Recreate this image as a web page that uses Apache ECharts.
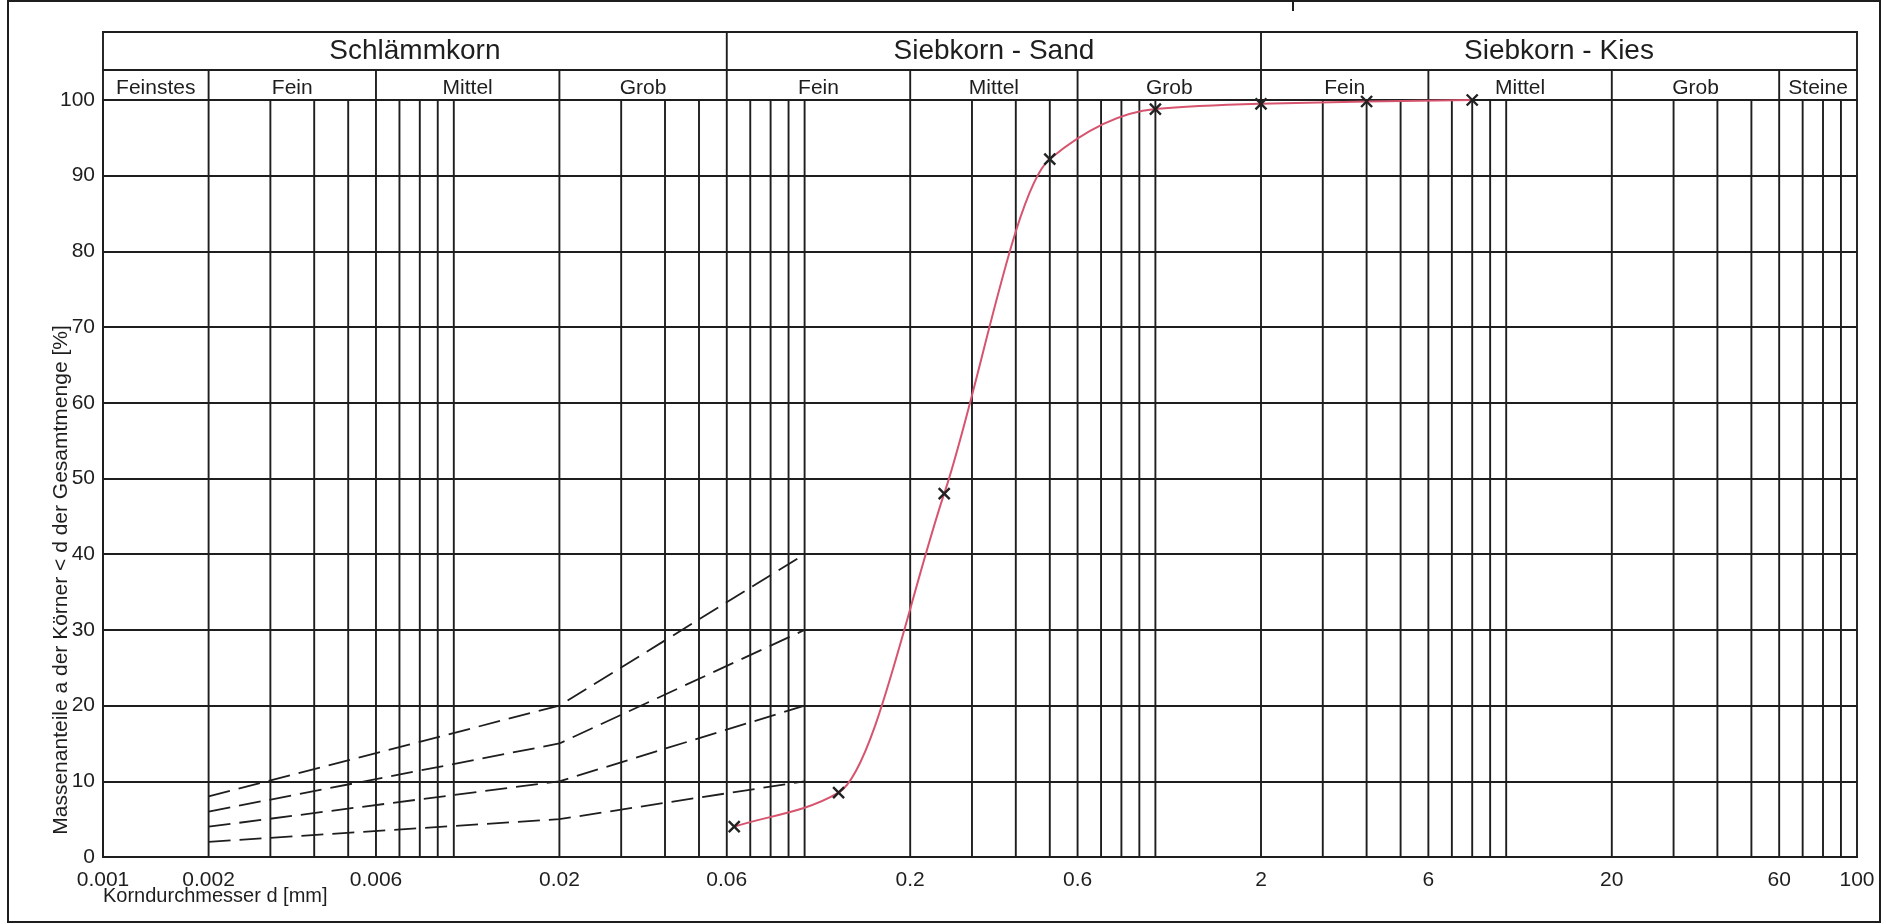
<!DOCTYPE html>
<html><head><meta charset="utf-8">
<script src="https://cdn.jsdelivr.net/npm/echarts@6/dist/echarts.min.js"></script>
<style>html,body{margin:0;padding:0;background:#fff}#c{width:1886px;height:924px}</style>
</head><body><div id="c"></div>
<script>
// ---- data ----
const sieveSizes = [0.063, 0.125, 0.25, 0.5, 1, 2, 4, 8];
const passing    = [4.0, 8.5, 48, 92.2, 98.8, 99.5, 99.8, 100];

const bandSizes = [0.002, 0.02, 0.1];
const band1 = [8, 20, 40];
const band2 = [6, 15, 30];
const band3 = [4, 10, 20];
const band4 = [2, 5, 10];

const xTickLabels = ['0.001', '0.002', '0.006', '0.02', '0.06', '0.2', '0.6', '2', '6', '20', '60', '100'];

const mainGroups = ['Schlämmkorn', 'Siebkorn - Sand', 'Siebkorn - Kies'];
const mainBounds = [0.001, 0.06, 2, 100];
const subGroups  = ['Feinstes', 'Fein', 'Mittel', 'Grob', 'Fein', 'Mittel', 'Grob', 'Fein', 'Mittel', 'Grob', 'Steine'];
const subBounds  = [0.001, 0.002, 0.006, 0.02, 0.06, 0.2, 0.6, 2, 6, 20, 60, 100];

const gridDecades = [0.001, 0.01, 0.1, 1, 10];
const gridSteps   = [1, 2, 3, 4, 5, 6, 7, 8, 9];

// ---- derived ----
const FONT = '"Liberation Sans", Arial, sans-serif';
const INK = '#1e1e1e';
const LW = 1.9;
const CURVE = '#d6546e';
const gridX = [];
gridDecades.forEach(d => gridSteps.forEach(s => {
  const v = +(d * s).toPrecision(6);
  if (v > 0.001 && v < 100) gridX.push(v);
}));
const inner = arr => arr.slice(1, -1);
const mids = b => b.slice(0, -1).map((v, i) => Math.sqrt(v * b[i + 1]));
const curveData = sieveSizes.map((d, i) => [d, passing[i]]);

function vLines(ax, values, y0, y1) {
  return {
    type: 'custom', xAxisIndex: ax, yAxisIndex: ax, silent: true, z: 1, clip: false,
    data: values.map(v => [v, y0]),
    renderItem: (p, api) => {
      const a = api.coord([api.value(0), y0]);
      const b = api.coord([api.value(0), y1]);
      return { type: 'line', shape: { x1: a[0], y1: a[1], x2: b[0], y2: b[1] },
               style: { stroke: INK, lineWidth: LW } };
    }
  };
}
function texts(ax, xs, labels, yv, size, dy) {
  return {
    type: 'custom', xAxisIndex: ax, yAxisIndex: ax, silent: true, z: 5, clip: false,
    data: xs.map((v, i) => [v, yv, i]),
    renderItem: (p, api) => {
      const c = api.coord([api.value(0), yv]);
      return { type: 'text', x: c[0], y: c[1] + (dy || 0),
               style: { text: labels[api.value(2)], font: size + 'px ' + FONT, fill: INK,
                        align: 'center', verticalAlign: 'middle' } };
    }
  };
}
function band(data) {
  return {
    type: 'line', xAxisIndex: 0, yAxisIndex: 0, silent: true, z: 3,
    data: bandSizes.map((d, i) => [d, data[i]]),
    symbol: 'none',
    lineStyle: { color: INK, width: 1.8, type: [22, 9] }
  };
}
// monotone (Fritsch-Carlson) cubic through the points after mapping by the axes
function curveSeries() {
  return {
    type: 'custom', xAxisIndex: 0, yAxisIndex: 0, silent: true, z: 4, clip: false,
    data: curveData,
    renderItem: (params, api) => {
      if (params.dataIndex !== 0) return null;
      const P = curveData.map(v => api.coord(v));
      const n = P.length, h = [], d = [], m = [];
      for (let k = 0; k < n - 1; k++) {
        h[k] = P[k + 1][0] - P[k][0];
        d[k] = (P[k + 1][1] - P[k][1]) / h[k];
      }
      m[0] = d[0]; m[n - 1] = d[n - 2];
      for (let k = 1; k < n - 1; k++) {
        if (d[k - 1] * d[k] <= 0) { m[k] = 0; continue; }
        const w1 = 2 * h[k] + h[k - 1], w2 = h[k] + 2 * h[k - 1];
        m[k] = (w1 + w2) / (w1 / d[k - 1] + w2 / d[k]);
      }
      const children = [];
      for (let k = 0; k < n - 1; k++) {
        children.push({
          type: 'bezierCurve',
          shape: {
            x1: P[k][0], y1: P[k][1], x2: P[k + 1][0], y2: P[k + 1][1],
            cpx1: P[k][0] + h[k] / 3, cpy1: P[k][1] + m[k] * h[k] / 3,
            cpx2: P[k + 1][0] - h[k] / 3, cpy2: P[k + 1][1] - m[k + 1] * h[k] / 3
          },
          style: { stroke: CURVE, lineWidth: 2, fill: null }
        });
      }
      return { type: 'group', children: children };
    }
  };
}
const xTickValues = xTickLabels.map(Number);

const logX = (gi, show) => ({
  type: 'log', logBase: 10, min: 0.001, max: 100, gridIndex: gi,
  show: show,
  axisLine: { show: show, onZero: false, lineStyle: { color: INK, width: LW } },
  axisTick: { show: false }, axisLabel: { show: false },
  splitLine: { show: false }, minorTick: { show: false }, minorSplitLine: { show: false }
});
const unitY = gi => ({ type: 'value', min: 0, max: 1, gridIndex: gi, show: false,
  splitLine: { show: false } });

const chart = echarts.init(document.getElementById('c'), null, { renderer: 'canvas' });
chart.setOption({
  backgroundColor: '#fff',
  animation: false,
  textStyle: { fontFamily: FONT },
  grid: [
    { left: 103, right: 29, top: 100, bottom: 67, show: true, borderColor: INK, borderWidth: LW },
    { left: 103, right: 29, top: 32, height: 38, show: true, borderColor: INK, borderWidth: LW },
    { left: 103, right: 29, top: 70, height: 30, show: true, borderColor: INK, borderWidth: LW }
  ],
  xAxis: [ logX(0, true), logX(1, false), logX(2, false) ],
  yAxis: [
    { type: 'value', min: 0, max: 100, interval: 10, gridIndex: 0,
      axisLine: { show: true, lineStyle: { color: INK, width: LW } },
      axisTick: { show: false },
      splitLine: { show: true, lineStyle: { color: INK, width: LW } },
      axisLabel: { fontSize: 21, color: INK, margin: 8, fontFamily: FONT, padding: [0, 0, 22, 0] } },
    unitY(1), unitY(2)
  ],
  graphic: [
    { type: 'rect', shape: { x: 8, y: 1, width: 1872, height: 921 },
      style: { fill: 'none', stroke: INK, lineWidth: 2 }, z: 100, silent: true },
    { type: 'line', shape: { x1: 1293, y1: 0, x2: 1293, y2: 11 },
      style: { stroke: INK, lineWidth: 2 }, z: 100, silent: true },
    { type: 'text', x: 61, y: 580, rotation: Math.PI / 2, silent: true,
      style: { text: 'Massenanteile a der Körner < d der Gesamtmenge [%]', font: '21px ' + FONT,
               fill: INK, align: 'center', verticalAlign: 'middle' } },
    { type: 'text', x: 103, y: 896, silent: true,
      style: { text: 'Korndurchmesser d [mm]', font: '20px ' + FONT, fill: INK,
               align: 'left', verticalAlign: 'middle' } }
  ],
  series: [
    vLines(0, gridX, 0, 100),
    texts(0, xTickValues, xTickLabels, 0, 21, 23),
    band(band1), band(band2), band(band3), band(band4),
    curveSeries(),
    {
      type: 'scatter', xAxisIndex: 0, yAxisIndex: 0, z: 6, silent: true,
      data: curveData,
      symbol: 'path://M0,0L10,10M10,0L0,10', symbolSize: 11,
      itemStyle: { color: '#222', borderColor: '#222', borderWidth: 2.4, opacity: 1 }
    },
    vLines(1, inner(mainBounds), 0, 1),
    texts(1, mids(mainBounds), mainGroups, 0.5, 28, 0),
    vLines(2, inner(subBounds), 0, 1),
    texts(2, mids(subBounds), subGroups, 0.5, 21, 3)
  ]
});
</script></body></html>
